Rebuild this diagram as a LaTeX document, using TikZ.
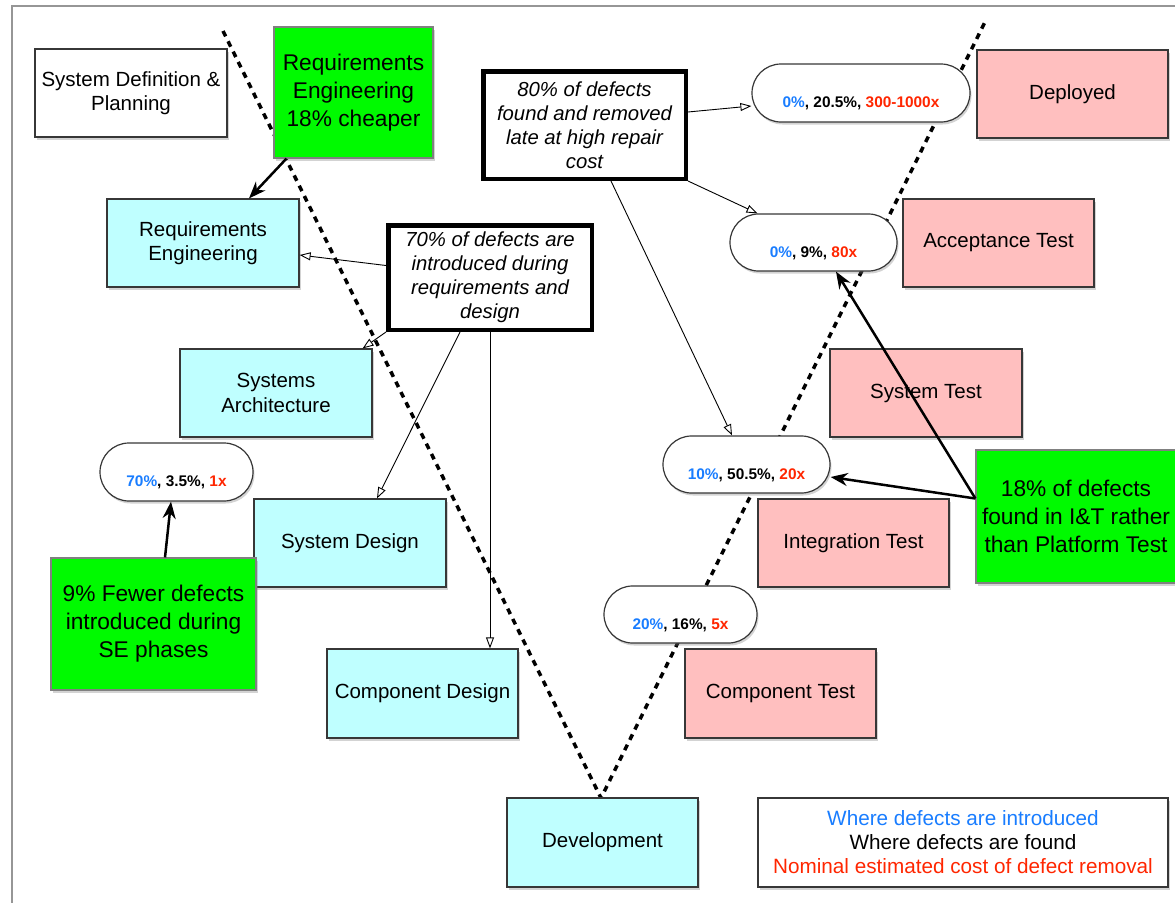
\documentclass[tikz,border=0pt]{standalone}
\usepackage{fontspec}
\setmainfont{Liberation Sans}
\usetikzlibrary{arrows.meta,shadows,shapes.misc}

\definecolor{phasecyan}{RGB}{191,255,255}
\definecolor{testpink}{RGB}{255,191,191}
\definecolor{notegreen}{RGB}{0,250,0}
\definecolor{introblue}{RGB}{25,125,255}
\definecolor{costred}{RGB}{255,38,0}
\definecolor{edgegray}{RGB}{55,55,55}
\definecolor{framegray}{RGB}{150,150,150}

% introduced / found / cost triple shown in each rounded tag
\newcommand{\defectvals}[3]{\textcolor{introblue}{#1}, #2, \textcolor{costred}{#3}}

\begin{document}
\begin{tikzpicture}[x=1pt,y=-1pt,
  shade/.style={drop shadow={shadow xshift=1.5pt, shadow yshift=-2.5pt, opacity=0.35}},
  base/.style={draw=edgegray, line width=1.2pt, align=center, inner sep=0pt,
    font=\fontsize{20.5pt}{24.5pt}\selectfont, shade},
  phase/.style={base, fill=phasecyan},
  test/.style={base, fill=testpink},
  plain/.style={base, fill=white},
  note/.style={base, draw=gray, fill=notegreen, font=\fontsize{22.7pt}{28pt}\selectfont},
  claim/.style={draw=black, line width=4.5pt, fill=white, align=center, inner sep=0pt,
    font=\fontsize{20.3pt}{24pt}\selectfont\itshape},
  tag/.style={rounded rectangle, draw=edgegray, line width=1.2pt, fill=white, inner sep=0pt,
    text height=29pt, text depth=0pt, font=\fontsize{15.4pt}{18pt}\selectfont\bfseries, shade},
  vline/.style={line width=3.5pt, dash pattern=on 6pt off 5.5pt},
  thinarrow/.style={line width=0.9pt, -{Triangle[open, length=11pt, width=8pt]}},
  boldarrow/.style={line width=2.5pt, -{Stealth[length=17pt, width=13pt]}},
]
\useasboundingbox (0,0) rectangle (1175,902);

% page frame
\draw[framegray, line width=2pt] (12,910) -- (12,6) -- (1185,6);

% the V of the life cycle
\coordinate (vleft) at (223,31);
\coordinate (vbottom) at (601,798);
\coordinate (vright) at (985,22);
\draw[vline] (vleft) -- (vbottom) -- (vright);

% left leg: definition and design phases
\node[plain, minimum width=192pt, minimum height=88pt] (sysdef) at (131,93) {System Definition \&\\Planning};
\node[note, minimum width=159pt, minimum height=131pt] (greentop) at (353.5,92.5) {Requirements\\Engineering\\18\% cheaper};
\node[phase, minimum width=192pt, minimum height=88pt] (reqeng) at (203,243) {Requirements\\Engineering};
\node[phase, minimum width=192pt, minimum height=88pt] (sysarch) at (276,393) {Systems\\Architecture};
\node[phase, minimum width=192pt, minimum height=88pt] (sysdesign) at (350,543) {System Design};
\node[phase, minimum width=191pt, minimum height=89pt] (compdesign) at (422.5,693.5) {Component Design};
\node[phase, minimum width=191pt, minimum height=89pt] (dev) at (602.5,842.5) {Development};

% right leg: test phases
\node[test, minimum width=191pt, minimum height=89pt] (comptest) at (780.5,693.5) {Component Test};
\node[test, minimum width=191pt, minimum height=88pt] (inttest) at (853.5,543) {Integration Test};
\node[test, minimum width=192pt, minimum height=88pt] (systest) at (926,393) {System Test};
\node[test, minimum width=191pt, minimum height=88pt] (acctest) at (998.5,243) {Acceptance Test};
\node[test, minimum width=191pt, minimum height=88pt] (deployed) at (1072.5,94) {Deployed};

% statements
\node[claim, minimum width=202.5pt, minimum height=107.5pt] (box80) at (584.5,125)
  {80\% of defects\\found and removed\\late at high repair\\cost};
\node[claim, minimum width=203.5pt, minimum height=104.5pt] (box70) at (490,277.5)
  {70\% of defects are\\introduced during\\requirements and\\design};

% defect tags
\node[tag, minimum width=218pt, minimum height=58pt] (p1) at (861,93) {\defectvals{0\%}{20.5\%}{300-1000x}};
\node[tag, minimum width=167pt, minimum height=57pt] (p2) at (813.5,242.5) {\defectvals{0\%}{9\%}{80x}};
\node[tag, minimum width=153pt, minimum height=58pt] (p3) at (176.5,472) {\defectvals{70\%}{3.5\%}{1x}};
\node[tag, minimum width=167pt, minimum height=57pt] (p4) at (746.5,464.5) {\defectvals{10\%}{50.5\%}{20x}};
\node[tag, minimum width=153pt, minimum height=57pt] (p5) at (680.5,614.5) {\defectvals{20\%}{16\%}{5x}};

% green call-outs
\node[note, minimum width=205pt, minimum height=132pt] (greenleft) at (153.5,624)
  {9\% Fewer defects\\introduced during\\SE phases};
\node[note, minimum width=200pt, minimum height=133pt] (greenright) at (1076,516.5)
  {18\% of defects\\found in I\&T rather\\than Platform Test};

% legend
\node[plain, minimum width=410pt, minimum height=89pt, font=\fontsize{20.7pt}{24pt}\selectfont] (legend) at (963,842.5)
  {\textcolor{introblue}{Where defects are introduced}\\Where defects are found\\\textcolor{costred}{Nominal estimated cost of defect removal}};

% connectors
\draw[boldarrow] ([xshift=13pt]greentop.south west) -- ([xshift=46pt]reqeng.north);
\draw[thinarrow] ([yshift=12pt]box70.west) -- ([yshift=-12pt]reqeng.east);
\draw[thinarrow] (box70.south west) -- ([xshift=-10pt]sysarch.north east);
\draw[thinarrow] ([xshift=-30pt]box70.south) -- ([xshift=27pt]sysdesign.north);
\draw[thinarrow] (box70.south) -- (box70.south |- compdesign.north);

\draw[thinarrow] ([yshift=13pt]box80.east) -- ([yshift=-13pt]p1.west);
\draw[thinarrow] (box80.south east) -- ([xshift=-56pt]p2.north);
\draw[thinarrow] ([xshift=26.5pt]box80.south) -- ([xshift=-14.5pt]p4.north);

\draw[boldarrow] ([yshift=18pt]greenright.west) -- ([yshift=-12.5pt]p4.east);
\draw[boldarrow] ([yshift=18pt]greenright.west) -- ([xshift=22.5pt]p2.south);
\draw[boldarrow] ([xshift=11.5pt]greenleft.north) -- ([xshift=-5.5pt]p3.south);
\end{tikzpicture}
\end{document}
